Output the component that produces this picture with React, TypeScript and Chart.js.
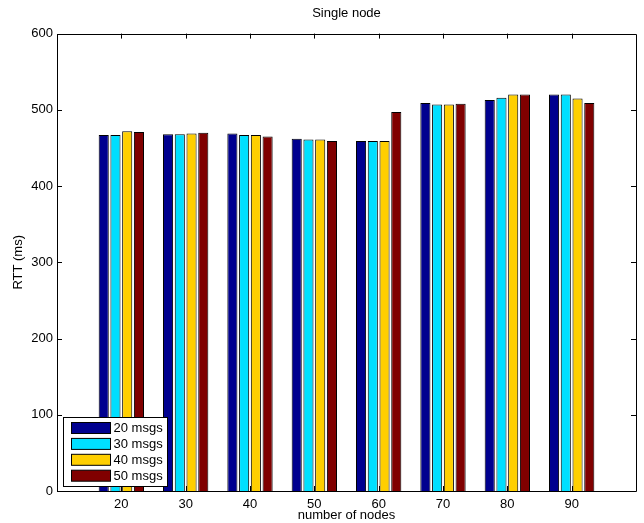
import React, { useEffect, useRef } from "react";
import { Chart, registerables } from "chart.js";

Chart.register(...registerables);

const categories = [20, 30, 40, 50, 60, 70, 80, 90];
const seriesLabels = ["20 msgs", "30 msgs", "40 msgs", "50 msgs"];
const s20 = [467, 468, 469, 462, 459, 509, 513, 520];
const s30 = [467, 468, 467, 461, 459, 507, 516, 520];
const s40 = [472, 469, 467, 461, 459, 507, 520, 515];
const s50 = [471, 470, 465, 459, 497, 508, 520, 509];
const yTicks = [0, 100, 200, 300, 400, 500, 600];
const seriesColors = ["#00008f", "#00dfff", "#ffcf00", "#800000"];

const FONT = "'Liberation Sans', Arial, Helvetica, sans-serif";

const framePlugin = {
  id: "frame",
  afterDraw(chart: any) {
    const { ctx, chartArea: a, scales } = chart;
    const x = scales.x;
    const y = scales.y;
    ctx.save();
    ctx.strokeStyle = "#000";
    ctx.lineWidth = 1;
    ctx.beginPath();
    ctx.rect(Math.round(a.left) + 0.5, Math.round(a.top) + 0.5, Math.round(a.right - a.left), Math.round(a.bottom - a.top));
    ctx.stroke();
    const tl = 5;
    ctx.beginPath();
    for (const c of categories) {
      const px = Math.round(x.getPixelForValue(c)) + 0.5;
      ctx.moveTo(px, a.bottom);
      ctx.lineTo(px, a.bottom - tl);
      ctx.moveTo(px, a.top);
      ctx.lineTo(px, a.top + tl);
    }
    for (const v of yTicks) {
      const py = Math.round(y.getPixelForValue(v)) + 0.5;
      ctx.moveTo(a.left, py);
      ctx.lineTo(a.left + tl, py);
      ctx.moveTo(a.right, py);
      ctx.lineTo(a.right - tl, py);
    }
    ctx.stroke();

    // legend inside, bottom-left
    const ds = chart.data.datasets;
    const bx = a.left + 6.5;
    const by = a.bottom - 73.5;
    const bw = 104;
    const bh = 69;
    ctx.fillStyle = "#fff";
    ctx.fillRect(bx, by, bw, bh);
    ctx.strokeRect(bx, by, bw, bh);
    ctx.font = `13px ${FONT}`;
    ctx.textBaseline = "middle";
    ctx.textAlign = "left";
    ds.forEach((d: any, i: number) => {
      const py = by + 5 + i * 15.9;
      ctx.fillStyle = d.backgroundColor;
      ctx.fillRect(bx + 8, py, 39, 11);
      ctx.strokeStyle = "#000";
      ctx.strokeRect(bx + 8, py, 39, 11);
      ctx.fillStyle = "#000";
      ctx.fillText(d.label, bx + 50, py + 6);
    });
    ctx.restore();
  },
};

export default function App() {
  const ref = useRef<HTMLCanvasElement>(null);
  useEffect(() => {
    if (!ref.current) return;
    const all = [s20, s30, s40, s50];
    const chart = new Chart(ref.current, {
      type: "bar",
      data: {
        datasets: all.map((s, k) => ({
          label: seriesLabels[k],
          data: categories.map((c, i) => ({ x: c, y: s[i] })),
          backgroundColor: seriesColors[k],
          borderColor: "#000",
          borderWidth: 1,
          categoryPercentage: 0.73,
          barPercentage: 0.86,
        })),
      },
      plugins: [framePlugin],
      options: {
        animation: false,
        responsive: false,
        layout: { padding: { left: 0, right: 8, top: 0, bottom: 0 } },
        plugins: {
          legend: { display: false },
          tooltip: { enabled: false },
          title: {
            display: true,
            fullSize: false,
            text: "Single node",
            color: "#000",
            font: { family: FONT, size: 13, weight: "normal" },
            padding: { top: 6, bottom: 12 },
          },
        },
        scales: {
          x: {
            type: "linear",
            min: 10,
            max: 100,
            offset: false,
            afterBuildTicks: (s: any) => {
              s.ticks = categories.map((v) => ({ value: v }));
            },
            afterFit: (s: any) => {
              s.height = 32;
            },
            grid: { display: false, drawTicks: false },
            border: { display: false },
            ticks: {
              color: "#000",
              padding: 6,
              maxRotation: 0,
              autoSkip: false,
              font: { family: FONT, size: 13 },
              callback: (v: any) => String(v),
            },
            title: {
              display: true,
              text: "number of nodes",
              color: "#000",
              font: { family: FONT, size: 13 },
              padding: { top: 0, bottom: 0 },
            },
          },
          y: {
            type: "linear",
            min: 0,
            max: 600,
            afterBuildTicks: (s: any) => {
              s.ticks = yTicks.map((v) => ({ value: v }));
            },
            afterFit: (s: any) => {
              s.width = 57;
            },
            grid: { display: false, drawTicks: false },
            border: { display: false },
            ticks: {
              color: "#000",
              padding: 4,
              font: { family: FONT, size: 13 },
            },
            title: {
              display: true,
              text: "RTT (ms)",
              color: "#000",
              font: { family: FONT, size: 13 },
              padding: { top: 11, bottom: 0 },
            },
          },
        },
      } as any,
    });
    return () => chart.destroy();
  }, []);
  return (
    <div style={{ position: "absolute", left: 0, top: 0, width: 644, height: 523, background: "#fff" }}>
      <canvas ref={ref} width={644} height={523} />
    </div>
  );
}
